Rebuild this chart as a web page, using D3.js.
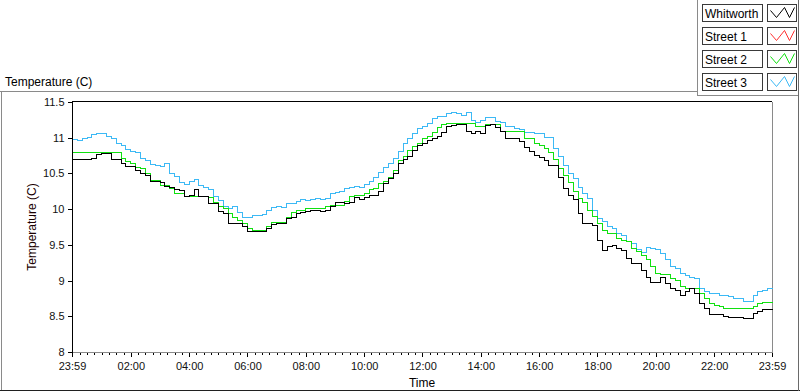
<!DOCTYPE html>
<html>
<head>
<meta charset="utf-8">
<script src="https://cdn.jsdelivr.net/npm/d3@7"></script>
<style>
  html, body { margin: 0; padding: 0; background: #fff; }
  svg { display: block; font-family: "Liberation Sans", Arial, sans-serif; }
</style>
</head>
<body>
<svg id="chart" width="800" height="392"></svg>
<script>
// ---------------- data ----------------
const sampleStepMinutes = 10;
const seriesNames = ["Whitworth", "Street 1", "Street 2", "Street 3"];
const seriesColors = ["#000000", "#ff3030", "#10e010", "#3cb9f5"];

const whitworth = [10.70,10.70,10.70,10.70,10.72,10.77,10.78,10.79,10.70,10.70,
10.64,10.60,10.60,10.55,10.50,10.48,10.40,10.40,10.38,10.32,
10.31,10.28,10.27,10.19,10.20,10.28,10.19,10.19,10.09,10.09,
9.97,9.95,9.81,9.81,9.81,9.76,9.69,9.69,9.69,9.69,
9.74,9.79,9.80,9.80,9.88,9.89,9.95,9.96,9.98,9.99,
9.99,9.97,9.99,10.05,10.10,10.10,10.08,10.10,10.17,10.14,
10.17,10.20,10.20,10.26,10.36,10.44,10.50,10.64,10.70,10.75,
10.83,10.90,10.92,10.97,10.99,11.03,11.08,11.17,11.18,11.19,
11.19,11.10,11.07,11.09,11.06,11.18,11.19,11.15,11.10,10.99,
10.99,10.99,10.95,10.87,10.82,10.76,10.73,10.69,10.62,10.62,
10.45,10.29,10.20,10.14,9.95,9.81,9.80,9.78,9.57,9.43,
9.48,9.50,9.45,9.43,9.32,9.24,9.24,9.15,9.05,8.98,
8.98,9.05,8.96,8.90,8.87,8.80,8.86,8.89,8.83,8.68,
8.61,8.53,8.53,8.53,8.50,8.49,8.49,8.49,8.47,8.48,
8.54,8.58,8.60,8.60,8.60];

const street1 = [];

const street2 = [10.80,10.80,10.80,10.80,10.80,10.80,10.80,10.80,10.80,10.80,
10.71,10.68,10.64,10.59,10.57,10.50,10.41,10.41,10.34,10.34,
10.30,10.23,10.22,10.19,10.19,10.19,10.19,10.19,10.17,10.10,
10.05,10.01,9.95,9.89,9.85,9.80,9.73,9.71,9.71,9.71,
9.76,9.82,9.82,9.82,9.89,9.96,9.99,9.99,10.01,10.01,
10.01,10.01,10.04,10.06,10.06,10.06,10.12,10.18,10.20,10.20,
10.23,10.28,10.30,10.36,10.40,10.45,10.55,10.69,10.75,10.83,
10.88,10.92,10.99,11.02,11.08,11.15,11.19,11.21,11.21,11.21,
11.21,11.21,11.21,11.16,11.16,11.19,11.19,11.19,11.10,11.09,
11.09,11.09,11.09,10.99,10.99,10.93,10.90,10.85,10.80,10.70,
10.58,10.48,10.38,10.25,10.15,10.10,9.99,9.90,9.80,9.71,
9.67,9.66,9.60,9.57,9.55,9.45,9.42,9.36,9.30,9.20,
9.10,9.09,9.09,9.04,9.01,8.92,8.89,8.89,8.89,8.82,
8.75,8.69,8.66,8.64,8.62,8.61,8.61,8.61,8.61,8.61,
8.64,8.68,8.70,8.70,8.70];

const street3 = [10.98,10.97,11.00,11.01,11.05,11.06,11.07,11.02,10.99,10.93,
10.90,10.84,10.81,10.80,10.72,10.69,10.63,10.62,10.60,10.64,
10.50,10.46,10.38,10.35,10.40,10.42,10.34,10.31,10.28,10.18,
10.13,10.04,10.01,10.04,9.96,9.89,9.89,9.92,9.92,9.93,
9.99,10.03,10.04,10.03,10.08,10.08,10.12,10.14,10.13,10.14,
10.15,10.14,10.16,10.22,10.24,10.25,10.30,10.31,10.32,10.31,
10.35,10.39,10.45,10.52,10.59,10.65,10.72,10.82,10.92,10.99,
11.07,11.13,11.17,11.20,11.27,11.30,11.31,11.35,11.36,11.35,
11.32,11.36,11.25,11.22,11.25,11.29,11.29,11.23,11.22,11.16,
11.16,11.13,11.12,11.08,11.08,11.07,11.06,11.01,11.01,10.85,
10.75,10.62,10.50,10.43,10.31,10.22,10.15,9.99,9.87,9.83,
9.76,9.73,9.66,9.64,9.55,9.52,9.44,9.40,9.47,9.45,
9.44,9.38,9.30,9.20,9.17,9.10,9.08,9.05,9.04,8.90,
8.86,8.83,8.83,8.80,8.80,8.78,8.75,8.75,8.72,8.72,
8.80,8.85,8.87,8.89,8.91];

const xTickLabels = ["23:59","02:00","04:00","06:00","08:00","10:00","12:00",
                     "14:00","16:00","18:00","20:00","22:00","23:59"];
const yTickValues = [8, 8.5, 9, 9.5, 10, 10.5, 11, 11.5];
const yTickLabels = ["8","8.5","9","9.5","10","10.5","11","11.5"];

// ---------------- layout ----------------
const svg = d3.select("#chart");
const plot = { left: 72, right: 772, top: 102, bottom: 352 };

const tStart = new Date(2000, 0, 1, 23, 59);
const tEnd = new Date(2000, 0, 2, 23, 59);
const parseHM = (s, i, arr) => {
  if (i === 0) return tStart;
  if (i === arr.length - 1) return tEnd;
  const [h, m] = s.split(":").map(Number);
  return new Date(2000, 0, 2, h, m);
};
const majorTicks = xTickLabels.map(parseHM);

const x = d3.scaleTime().domain([tStart, tEnd]).range([plot.left, plot.right]);
const y = d3.scaleLinear().domain([8, 11.5]).range([plot.bottom, plot.top]);

const timeAt = i => new Date(tStart.getTime() + i * sampleStepMinutes * 60000);

// ---------------- frame ----------------
const frame = svg.append("g").attr("shape-rendering", "crispEdges");
frame.append("line").attr("x1", 0).attr("x2", 698).attr("y1", 91.5).attr("y2", 91.5).attr("stroke", "#8a8a8a");
frame.append("line").attr("x1", 1.5).attr("x2", 1.5).attr("y1", 91.5).attr("y2", 391).attr("stroke", "#8a8a8a");
frame.append("line").attr("x1", 0).attr("x2", 800).attr("y1", 390.5).attr("y2", 390.5).attr("stroke", "#202020");
frame.append("line").attr("x1", 798.5).attr("x2", 798.5).attr("y1", 0).attr("y2", 391).attr("stroke", "#6a6a6a");
// legend frame
frame.append("line").attr("x1", 697.5).attr("x2", 697.5).attr("y1", 0).attr("y2", 95.5).attr("stroke", "#8a8a8a");
frame.append("line").attr("x1", 697.5).attr("x2", 798).attr("y1", 95.5).attr("y2", 95.5).attr("stroke", "#8a8a8a");

// title
svg.append("text").attr("x", 5).attr("y", 86).attr("font-size", 12).attr("fill", "#000")
  .text("Temperature (C)");

// ---------------- plot box ----------------
const pb = svg.append("g").attr("shape-rendering", "crispEdges");
pb.append("line").attr("x1", plot.right + 0.5).attr("x2", plot.right + 0.5)
  .attr("y1", plot.top).attr("y2", plot.bottom + 1).attr("stroke", "#8a8a8a");
pb.append("line").attr("x1", plot.left).attr("x2", plot.right + 1)
  .attr("y1", plot.bottom + 0.5).attr("y2", plot.bottom + 0.5).attr("stroke", "#8a8a8a");

// clip
svg.append("defs").append("clipPath").attr("id", "clip")
  .append("rect").attr("x", plot.left + 1).attr("y", plot.top)
  .attr("width", plot.right - plot.left).attr("height", plot.bottom - plot.top);

// ---------------- lines ----------------
const allSeries = [whitworth, street1, street2, street3];
const line = d3.line()
  .x((d, i) => Math.round(x(timeAt(i))) + 0.5)
  .y(d => Math.round(y(d)) + 0.5)
  .curve(d3.curveStepAfter);

const linesG = svg.append("g").attr("clip-path", "url(#clip)");
// draw back to front: Street 3, Street 2, Street 1, Whitworth on top
[3, 2, 1, 0].forEach(k => {
  if (!allSeries[k].length) return;
  linesG.append("path")
    .datum(allSeries[k])
    .attr("fill", "none")
    .attr("stroke", seriesColors[k])
    .attr("stroke-width", 1)
    .attr("shape-rendering", "crispEdges")
    .attr("d", line);
});

// top black border
pb.append("line").attr("x1", plot.left).attr("x2", plot.right)
  .attr("y1", plot.top - 0.5).attr("y2", plot.top - 0.5).attr("stroke", "#000");

// ---------------- axes ----------------
const yAxis = d3.axisLeft(y).tickValues(yTickValues).tickSize(5).tickPadding(3)
  .tickFormat((d, i) => yTickLabels[i]);
const gy = svg.append("g").attr("transform", `translate(${plot.left + 0.5},0)`).call(yAxis);
gy.attr("shape-rendering", "crispEdges");
gy.select(".domain").attr("stroke", "#000").attr("d", `M0,${plot.top - 1}V${plot.bottom + 1}`);
gy.selectAll(".tick line").attr("stroke", "#000");
gy.selectAll(".tick text").attr("font-size", 11).attr("fill", "#111")
  .attr("font-family", "'Liberation Sans', Arial, sans-serif");

// minor x ticks every 15 minutes
const minorTicks = d3.timeMinute.every(15).range(tStart, tEnd)
  .filter(t => !majorTicks.some(m => Math.abs(m - t) < 60000));
const gxMinor = svg.append("g").attr("transform", `translate(0,${plot.bottom + 1})`)
  .call(d3.axisBottom(x).tickValues(minorTicks).tickSize(2).tickFormat(""));
gxMinor.attr("shape-rendering", "crispEdges");
gxMinor.select(".domain").remove();
gxMinor.selectAll(".tick line").attr("stroke", "#000");

const gx = svg.append("g").attr("transform", `translate(0,${plot.bottom + 1})`)
  .call(d3.axisBottom(x).tickValues(majorTicks).tickSize(4).tickPadding(5)
    .tickFormat((d, i) => xTickLabels[i]));
gx.attr("shape-rendering", "crispEdges");
gx.select(".domain").remove();
gx.selectAll(".tick line").attr("stroke", "#000");
gx.selectAll(".tick text").attr("font-size", 11).attr("fill", "#111")
  .attr("font-family", "'Liberation Sans', Arial, sans-serif");

// axis titles
svg.append("text").attr("x", (plot.left + plot.right) / 2).attr("y", 387)
  .attr("text-anchor", "middle").attr("font-size", 12).attr("fill", "#000").text("Time");
svg.append("text")
  .attr("transform", `translate(36,${(plot.top + plot.bottom) / 2}) rotate(-90)`)
  .attr("text-anchor", "middle").attr("font-size", 12).attr("fill", "#1a0000")
  .text("Temperature (C)");

// ---------------- legend ----------------
const leg = svg.append("g");
seriesNames.forEach((name, i) => {
  const y0 = 4.5 + i * 23;
  const g = leg.append("g");
  g.append("rect").attr("x", 702.5).attr("y", y0).attr("width", 60).attr("height", 17)
    .attr("fill", "#fff").attr("stroke", "#3a3a3a").attr("shape-rendering", "crispEdges");
  g.append("text").attr("x", 705).attr("y", y0 + 13).attr("font-size", 12).attr("fill", "#000").text(name);
  g.append("rect").attr("x", 767.5).attr("y", y0).attr("width", 29).attr("height", 17)
    .attr("fill", "#fff").attr("stroke", "#3a3a3a").attr("shape-rendering", "crispEdges");
  const sx = 767.5;
  const pts = [[sx + 3, y0 + 6], [sx + 9, y0 + 13], [sx + 17, y0 + 3], [sx + 22, y0 + 13], [sx + 27, y0 + 3]];
  g.append("path").attr("d", d3.line()(pts)).attr("fill", "none")
    .attr("stroke", seriesColors[i]).attr("stroke-width", 1);
});
</script>
</body>
</html>
